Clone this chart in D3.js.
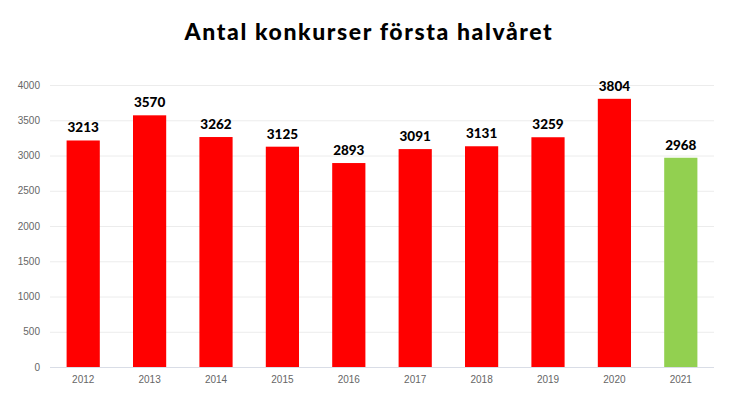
<!DOCTYPE html>
<html>
<head>
<meta charset="utf-8">
<script src="https://cdn.jsdelivr.net/npm/d3@7"></script>
<style>
  body { margin: 0; background: #fff; }
  svg { display: block; }
</style>
</head>
<body>
<div id="chart"></div>
<script>
var years = ["2012", "2013", "2014", "2015", "2016", "2017", "2018", "2019", "2020", "2021"];
var values = [3213, 3570, 3262, 3125, 2893, 3091, 3131, 3259, 3804, 2968];
var yTicks = [0, 500, 1000, 1500, 2000, 2500, 3000, 3500, 4000];

function init() {
    var width = 729;
    var height = 393;
    var left = 50, right = 714, top = 85, bottom = 367;

    var svg = d3.select("#chart")
                .append("svg")
                .attr("width", width)
                .attr("height", height);

    // title
    svg.append("text")
        .attr("x", 369)
        .attr("y", 40)
        .attr("text-anchor", "middle")
        .style("font-family", "Lato, 'Noto Sans', sans-serif")
        .style("font-weight", "900")
        .style("font-size", "23px")
        .style("letter-spacing", "1.6px")
        .attr("fill", "#000")
        .text("Antal konkurser första halvåret");

    var xScale = d3.scaleBand()
                    .domain(years)
                    .range([left, right])
                    .paddingInner(0.5)
                    .paddingOuter(0.25);

    var yScale = d3.scaleLinear()
                    .domain([0, 4000])
                    .range([bottom, top]);

    // grid lines
    svg.append("g")
        .selectAll("line")
        .data(yTicks.slice(1))
        .enter()
        .append("line")
        .attr("x1", left)
        .attr("x2", right)
        .attr("y1", function(d) { return yScale(d) + 0.5; })
        .attr("y2", function(d) { return yScale(d) + 0.5; })
        .attr("stroke", "#ececec")
        .attr("stroke-width", 1);

    // y axis labels
    var yAxis = d3.axisLeft(yScale)
                .tickValues(yTicks)
                .tickFormat(d3.format("d"))
                .tickSize(0)
                .tickPadding(10);

    var gy = svg.append("g")
        .attr("transform", "translate(" + left + ", 0)")
        .call(yAxis);
    gy.select(".domain").remove();
    gy.selectAll("text")
        .style("font-family", "'Liberation Sans', Arial, sans-serif")
        .style("font-size", "10px")
        .attr("fill", "#666");

    // bars
    svg.selectAll("rect.bar")
        .data(values)
        .enter()
        .append("rect")
        .attr("class", "bar")
        .attr("x", function(d, i) { return xScale(years[i]); })
        .attr("y", function(d) { return yScale(d); })
        .attr("width", xScale.bandwidth())
        .attr("height", function(d) { return bottom - yScale(d); })
        .attr("fill", function(d, i) { return i == years.length - 1 ? "#92d050" : "#ff0000"; });

    // baseline
    svg.append("line")
        .attr("x1", left)
        .attr("x2", right)
        .attr("y1", bottom + 0.5)
        .attr("y2", bottom + 0.5)
        .attr("stroke", "#d9dde6");

    // x axis labels
    var xAxis = d3.axisBottom(xScale)
                .tickSize(0)
                .tickPadding(9);
    var gx = svg.append("g")
        .attr("transform", "translate(0, " + bottom + ")")
        .call(xAxis);
    gx.select(".domain").remove();
    gx.selectAll("text")
        .style("font-family", "'Liberation Sans', Arial, sans-serif")
        .style("font-size", "10px")
        .attr("fill", "#666");

    // value labels
    svg.selectAll("text.val")
        .data(values)
        .enter()
        .append("text")
        .attr("class", "val")
        .attr("x", function(d, i) { return xScale(years[i]) + xScale.bandwidth() / 2; })
        .attr("y", function(d) { return yScale(d) - 8; })
        .attr("text-anchor", "middle")
        .style("font-family", "Lato, 'Noto Sans', sans-serif")
        .style("font-weight", "900")
        .style("font-size", "13.5px")
        .attr("fill", "#000")
        .text(function(d) { return d; });
}

window.onload = init;
</script>
</body>
</html>
